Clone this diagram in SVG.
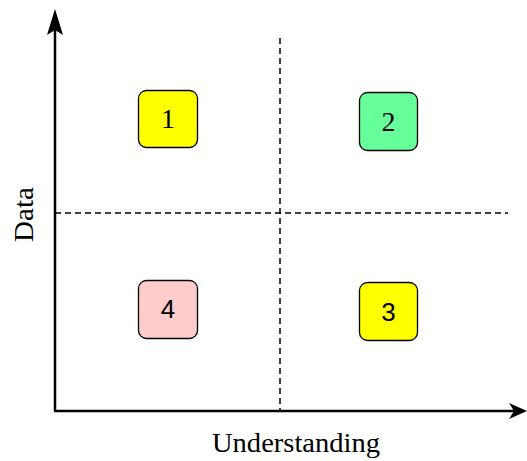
<svg xmlns="http://www.w3.org/2000/svg" width="527" height="461" viewBox="0 0 527 461">
<style>
.box{stroke:#000;stroke-width:1.3}
.lbl{font-family:"Liberation Serif",serif;font-size:28px;fill:#000;text-anchor:middle}
.sans{font-family:"Liberation Sans",sans-serif;font-size:26px;fill:#000;text-anchor:middle}
.axis{stroke:#000;stroke-width:2.5;fill:none}
.dash{stroke:#000;stroke-width:1.5;stroke-dasharray:6 4;fill:none}
</style>
<rect width="527" height="461" fill="#fff"/>
<g id="connectors">
<line class="dash" x1="280" y1="38" x2="280" y2="410"/>
<line class="dash" x1="55" y1="213" x2="508" y2="213"/>
<line class="axis" x1="55" y1="411" x2="55" y2="20"/>
<line class="axis" x1="54" y1="411" x2="515" y2="411"/>
<path d="M55,9 L63,35 L55,30 L47,35 Z" fill="#000"/>
<path d="M527,411 L509,403 L514,411 L509,419 Z" fill="#000"/>
</g>
<g id="node1"><rect class="box" x="138.5" y="90.5" width="59" height="57" rx="8" fill="#ffff00"/><text class="lbl" x="168" y="128">1</text></g>
<g id="node2"><rect class="box" x="359.5" y="92.5" width="58" height="58" rx="8" fill="#66ff99"/><text class="lbl" x="388.5" y="131">2</text></g>
<g id="node3"><rect class="box" x="359.5" y="282.5" width="58" height="58" rx="8" fill="#ffff00"/><text class="sans" x="388.5" y="321">3</text></g>
<g id="node4"><rect class="box" x="138.5" y="280.5" width="59" height="58" rx="8" fill="#ffcccc"/><text class="sans" x="168" y="318">4</text></g>
<text class="lbl" x="296" y="452" font-size="28" textLength="168" lengthAdjust="spacingAndGlyphs">Understanding</text>
<text class="lbl" x="0" y="0" transform="translate(33,214.5) rotate(-90)" font-size="28" textLength="55" lengthAdjust="spacingAndGlyphs">Data</text>
</svg>
